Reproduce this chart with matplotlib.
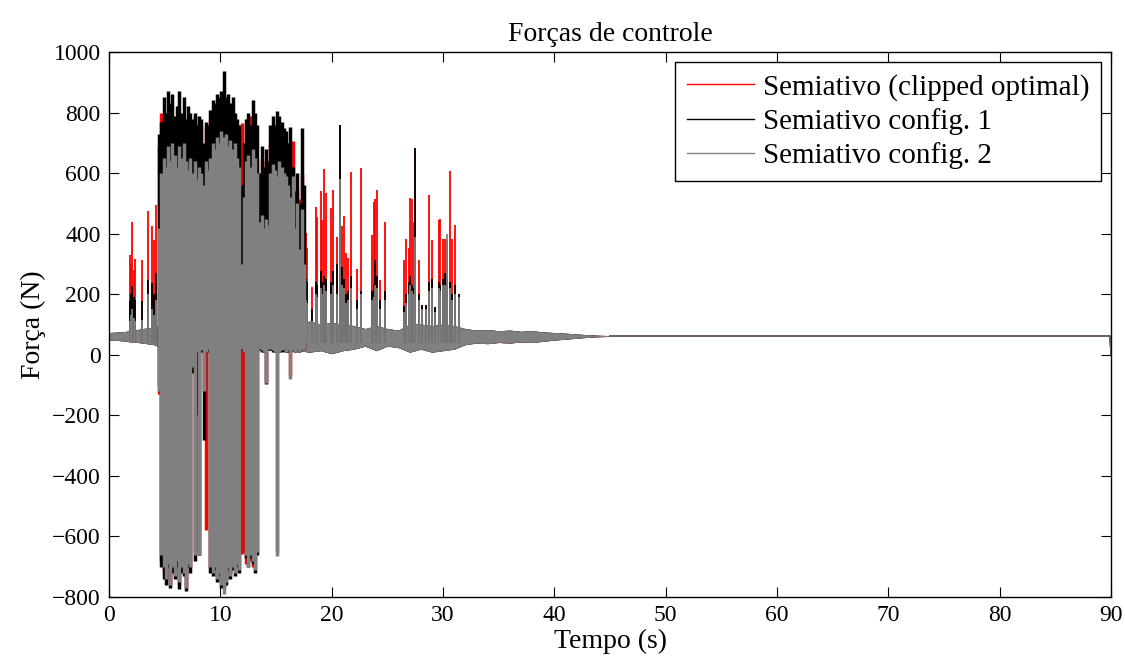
import numpy as np
import matplotlib
matplotlib.use("Agg")
import matplotlib.pyplot as plt
from matplotlib.lines import Line2D

# --- data (time in s, force in N) ---

# dense part of the signal, one sample every 0.2 s from 4.5 to 17.5 s
dense_t = [4.5, 4.7, 4.9, 5.1, 5.3, 5.5, 5.7, 5.9, 6.1, 6.3, 6.5, 6.7, 6.9, 7.1, 7.3,
           7.5, 7.7, 7.9, 8.1, 8.3, 8.5, 8.7, 8.9, 9.1,
           9.3, 9.5, 9.7, 9.9, 10.1, 10.3, 10.5, 10.7, 10.9, 11.1, 11.3, 11.5, 11.7,
           11.9, 12.1, 12.3, 12.5, 12.7, 12.9, 13.1, 13.3,
           13.5, 13.7, 13.9, 14.1, 14.3,
           14.5, 14.7, 14.9, 15.1, 15.3, 15.5, 15.7, 15.9, 16.1,
           16.3, 16.5, 16.7, 16.9, 17.1, 17.3, 17.5]

red_top = [690, 800, 780, 760, 800, 770, 790, 760, 740, 800, 760, 780, 750, 770, 720,
           740, 790, 700, 560, 760, 680, 750, 700, 780,
           800, 790, 820, 810, 830, 820, 800, 810, 790, 800, 780, 760, 527,
           765, 700, 760, 740, 790, 760, 700, 640,
           560, 650, 600, 640, 600,
           700, 740, 720, 760, 760, 740, 720, 700, 660,
           700, 706, 539, 551, 515, 598, 402]
red_bot = [-130, -680, -720, -740, -700, -760, -700, -730, -690, -760, -700, -720, -770, -700, -700,
           -40, -650, -190, -660, 10, -120, -580, 10, -700,
           -700, -690, -730, -710, -750, -760, -740, -700, -720, -690, -710, -680, 10,
           -657, -650, -690, -650, -680, -700, -640, 10,
           20, 15, 10, -90, 20,
           20, 15, 10, -650, 10, 15, 20, 10, 15,
           -70, 15, 10, 20, 10, 15, 20]

black_top = [730, 770, 850, 800, 870, 830, 860, 790, 820, 870, 800, 850, 780, 820, 800,
             780, 800, 760, 790, 780, 700, 770, 760, 810,
             840, 830, 860, 850, 870, 936, 850, 860, 830, 850, 800, 780, 760,
             560, 700, 780, 800, 760, 843, 800, 760,
             600, 690, 620, 680, 640,
             760, 789, 760, 804, 790, 770, 748, 740, 700,
             751, 620, 540, 600, 500, 748, 560]
black_bot = [-100, -700, -740, -760, -700, -770, -720, -740, -700, -775, -720, -730, -780, -700, -720,
             -60, -680, -200, -660, 10, -280, 10, 10, -720,
             -730, -710, -750, -730, -770, -770, -760, -710, -740, -710, -730, -700, -720,
             15, 10, -670, -700, -670, -690, -720, -660,
             15, 10, 10, -98, 15,
             15, 10, 10, 10, 10, 10, 15, 10, 10,
             10, 15, 10, 20, 10, 15, 20]

gray_top = [420, 600, 650, 620, 690, 640, 700, 660, 620, 690, 650, 700, 640, 610, 650,
            600, 640, 580, 620, 600, 560, 640, 610, 650,
            700, 680, 720, 700, 740, 720, 730, 690, 710, 680, 700, 650, 620,
            300, 520, 640, 660, 620, 680, 650, 600,
            440, 460, 420, 450, 430,
            600, 630, 610, 590, 640, 620, 600, 590, 560,
            520, 590, 420, 500, 350, 480, 300]
gray_bot = [-120, -660, -700, -740, -690, -760, -700, -730, -680, -750, -700, -720, -770, -690, -700,
            -40, -660, 10, -660, 15, -120, 10, 20, -700,
            -720, -700, -740, -720, -760, -790, -750, -700, -730, -700, -720, -690, -710,
            20, 10, -660, -700, -660, -680, -710, -650,
            20, 15, 10, -92, 20,
            20, 15, 10, -663, 10, 15, 20, 10, 15,
            -80, 15, 10, 20, 10, 15, 20]

# isolated upward spikes (same instants for the three controllers)
spike_t = [1.85, 1.95, 2.1, 2.2, 2.35, 2.95, 3.5, 3.9, 4.05, 4.2,
           17.7, 17.8, 18.27, 18.57, 18.7, 19.0, 19.13, 19.3, 19.5, 19.9, 20.1, 20.5,
           20.75, 20.95, 21.1, 21.3, 21.5, 21.7, 22.3, 22.6, 23.6, 23.8, 23.9, 24.06,
           24.36, 24.78, 26.5, 26.7, 26.9, 27.07, 27.2, 27.37, 27.52, 27.8, 28.1, 28.5,
           28.78, 29.0, 29.3, 29.6, 29.76, 30.0, 30.2, 30.36, 30.6, 30.78, 31.1, 31.4]
spike_red = [331, 300, 438, 280, 315, 313, 476, 424, 380, 494,
             402, 351, 224, 489, 456, 541, 444, 613, 533, 486, 545, 390,
             759, 426, 458, 337, 319, 605, 283, 617, 396, 503, 515, 545,
             248, 438, 313, 382, 351, 518, 515, 438, 682, 313, 164, 164,
             527, 378, 158, 446, 450, 384, 382, 380, 608, 382, 430, 200]
spike_black = [176, 200, 227, 190, 182, 176, 248, 236, 200, 269,
               250, 240, 150, 240, 230, 277, 240, 260, 250, 240, 277, 300,
               759, 290, 250, 200, 210, 260, 180, 212, 210, 230, 313, 260,
               180, 212, 160, 200, 240, 260, 230, 220, 682, 200, 164, 164,
               240, 250, 158, 240, 230, 250, 270, 260, 240, 200, 230, 200]
spike_gray = [110, 130, 150, 120, 110, 115, 200, 150, 130, 180,
              180, 170, 110, 200, 190, 220, 200, 230, 210, 200, 230, 200,
              581, 230, 220, 170, 180, 220, 150, 200, 180, 190, 230, 220,
              150, 180, 140, 170, 200, 230, 210, 200, 390, 180, 150, 150,
              210, 220, 140, 220, 210, 230, 230, 400, 220, 180, 200, 190]
spike_base = 40

# band of the background oscillation, one value per second from 0 to 45 s
band_hi = [72, 74, 78, 85, 90, 100, 100, 100, 100, 100, 100, 100, 100, 100,
           110, 105, 105, 100, 110, 100, 105, 100, 95, 85, 95, 85, 80, 100, 100, 95,
           100, 95, 85, 80, 82, 78, 80, 76, 78, 74, 72, 70, 67, 65, 63, 62]
band_lo = [50, 48, 45, 40, 35, 20, 20, 20, 20, 20, 20, 20, 20, 20,
           15, 20, 10, 15, 10, 15, 5, 15, 20, 30, 15, 30, 25, 10, 20, 10,
           15, 20, 35, 40, 38, 42, 40, 44, 42, 46, 50, 53, 56, 59, 61, 62]
# steady part until the end of the simulation
tail_t = [45, 89.9, 90]
tail_v = [62, 62, 0]

series = [
    ("Semiativo (clipped optimal)", "#ff0000", red_top, red_bot, spike_red),
    ("Semiativo config. 1", "#000000", black_top, black_bot, spike_black),
    ("Semiativo config. 2", "#808080", gray_top, gray_bot, spike_gray),
]

plt.rcParams['font.family'] = ['Liberation Serif', 'DejaVu Serif']

fig = plt.figure(figsize=(11.25, 6.58), dpi=100)
ax = fig.add_axes([0.0969, 0.0927, 0.8907, 0.8283])

band_t = np.linspace(0, 45, len(band_hi))
handles = []
for label, color, top, bot, spk in series:
    ax.fill_between(band_t, band_lo, band_hi, color=color, lw=0.6)
    ax.plot(tail_t, tail_v, color=color, lw=1.0)
    ax.vlines(dense_t, bot, top, colors=color, lw=2.5)
    ax.vlines(spike_t, spike_base, spk, colors=color, lw=1.3)
    handles.append(Line2D([], [], color=color, lw=1.0, label=label))

ax.set_xlim(0, 90)
ax.set_ylim(-800, 1000)
ax.set_xticks(range(0, 91, 10))
ax.set_yticks(range(-800, 1001, 200))
ax.tick_params(direction='in', top=True, right=True, length=7, width=0.8,
               labelsize=17, pad=6)
for sp in ax.spines.values():
    sp.set_linewidth(1.0)

ax.set_title("Forças de controle", fontsize=20, pad=8)
ax.set_xlabel("Tempo (s)", fontsize=20, labelpad=2)
ax.set_ylabel("Força (N)", fontsize=20, labelpad=4)

leg = ax.legend(handles=handles, loc='upper right', fontsize=21, fancybox=False,
                framealpha=1, edgecolor='black', handlelength=2.3,
                handletextpad=0.3, labelspacing=0.25, borderpad=0.4,
                borderaxespad=0.35)
leg.get_frame().set_linewidth(1.0)

fig.savefig("out.png", dpi=100)
